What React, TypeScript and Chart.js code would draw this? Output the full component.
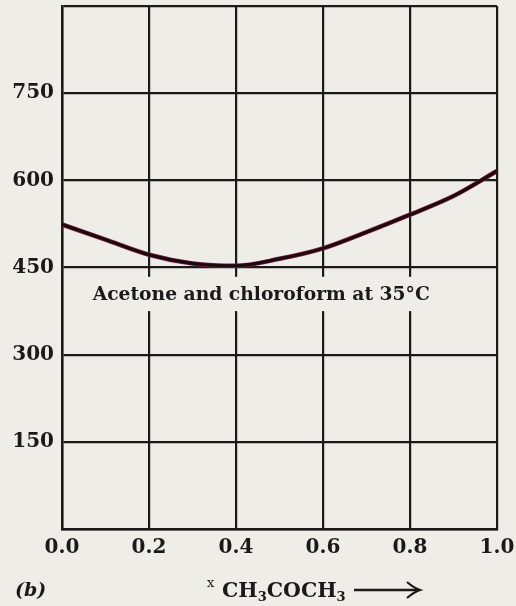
import React, { useEffect, useRef } from "react";
import { Chart, registerables } from "chart.js";

Chart.register(...registerables);

const moleFractions = [0, 0.1, 0.2, 0.3, 0.4, 0.5, 0.6, 0.7, 0.8, 0.9, 1.0];
const totalPressure = [524, 498, 472, 457, 453, 465, 483, 511, 541, 573, 616];
const hiddenYTicks = [0, 900];
const annotationText = "Acetone and chloroform at 35°C";
const panelLabel = "(b)";
const axisVar = "x";
const axisFormula: [string, boolean][] = [
  ["CH", false],
  ["3", true],
  ["COCH", false],
  ["3", true],
];

const SERIF = '"DejaVu Serif", "Liberation Serif", serif';
const INK = "#1a1a1a";
const PAPER = "#eeede7";

const decorPlugin = {
  id: "decor",
  beforeDatasetsDraw(chart: any) {
    const { ctx, scales } = chart;
    const y = scales.y;
    const x = scales.x;
    ctx.save();
    const top = y.getPixelForValue(434);
    const bot = y.getPixelForValue(375);
    const l = x.getPixelForValue(0.05);
    const r = x.getPixelForValue(0.95);
    ctx.fillStyle = PAPER;
    ctx.fillRect(l, top, r - l, bot - top);
    ctx.fillStyle = INK;
    ctx.font = `bold 18.7px ${SERIF}`;
    ctx.textAlign = "center";
    ctx.textBaseline = "middle";
    ctx.fillText(annotationText, x.getPixelForValue(0.458), (top + bot) / 2 + 1);
    ctx.restore();
  },
  afterDraw(chart: any) {
    const { ctx } = chart;
    ctx.save();
    ctx.fillStyle = INK;
    ctx.textBaseline = "alphabetic";
    ctx.textAlign = "left";
    // panel label
    ctx.font = `italic bold 19px ${SERIF}`;
    ctx.fillText(panelLabel, 15, 596);
    // axis title
    ctx.font = `13px ${SERIF}`;
    ctx.fillText(axisVar, 207, 587);
    let cx = 222;
    for (const [part, sub] of axisFormula) {
      ctx.font = sub ? `bold 13px ${SERIF}` : `bold 20.5px ${SERIF}`;
      ctx.fillText(part, cx, sub ? 601 : 597);
      cx += ctx.measureText(part).width;
    }
    // arrow
    const ax0 = 354;
    const ax1 = 420;
    const ay = 590;
    ctx.strokeStyle = INK;
    ctx.lineWidth = 2.5;
    ctx.beginPath();
    ctx.moveTo(ax0, ay);
    ctx.lineTo(ax1 - 2, ay);
    ctx.stroke();
    ctx.lineWidth = 2.2;
    ctx.beginPath();
    ctx.moveTo(ax1 - 13, ay - 8);
    ctx.quadraticCurveTo(ax1 - 6, ay - 2, ax1, ay);
    ctx.quadraticCurveTo(ax1 - 6, ay + 2, ax1 - 13, ay + 8);
    ctx.stroke();
    ctx.restore();
  },
};

export default function App() {
  const ref = useRef<HTMLCanvasElement | null>(null);

  useEffect(() => {
    if (!ref.current) return;
    const pts = moleFractions.map((xv, i) => ({ x: xv, y: totalPressure[i] }));
    const chart = new Chart(ref.current, {
      type: "line",
      data: {
        datasets: [
          {
            data: pts,
            borderColor: "#1a0a10",
            borderWidth: 3,
            pointRadius: 0,
            tension: 0.4,
            cubicInterpolationMode: "monotone",
          },
          {
            data: pts,
            borderColor: "#7a1c3c",
            borderWidth: 4.5,
            pointRadius: 0,
            tension: 0.4,
            cubicInterpolationMode: "monotone",
          },
        ],
      },
      options: {
        animation: false,
        responsive: false,
        maintainAspectRatio: false,
        layout: { padding: { top: 6, right: 19, left: 0, bottom: 0 } },
        plugins: {
          legend: { display: false },
          tooltip: { enabled: false },
        },
        scales: {
          x: {
            type: "linear",
            min: 0,
            max: 1,
            afterFit: (s: any) => {
              s.height = 77;
              s.paddingLeft = 0;
              s.paddingRight = 0;
            },
            ticks: {
              stepSize: 0.2,
              padding: 7,
              color: INK,
              font: { family: SERIF, size: 20, weight: "bold" },
              callback: (v: any) => Number(v).toFixed(1),
              maxRotation: 0,
            },
            grid: { color: INK, lineWidth: 2.2, drawTicks: false },
            border: { display: true, color: INK, width: 2.5 },
          },
          y: {
            type: "linear",
            min: 0,
            max: 900,
            afterFit: (s: any) => {
              s.width = 62;
              s.paddingTop = 0;
              s.paddingBottom = 0;
            },
            ticks: {
              stepSize: 150,
              padding: 8,
              color: INK,
              font: { family: SERIF, size: 20, weight: "bold" },
              callback: (v: any) => (hiddenYTicks.includes(Number(v)) ? "" : String(v)),
            },
            grid: { color: INK, lineWidth: 2.2, drawTicks: false },
            border: { display: true, color: INK, width: 2.5 },
          },
        },
      },
      plugins: [decorPlugin],
    } as any);
    return () => chart.destroy();
  }, []);

  return (
    <div
      style={{
        position: "fixed",
        left: 0,
        top: 0,
        width: 516,
        height: 606,
        background: PAPER,
      }}
    >
      <canvas ref={ref} width={516} height={606} style={{ display: "block" }} />
    </div>
  );
}
